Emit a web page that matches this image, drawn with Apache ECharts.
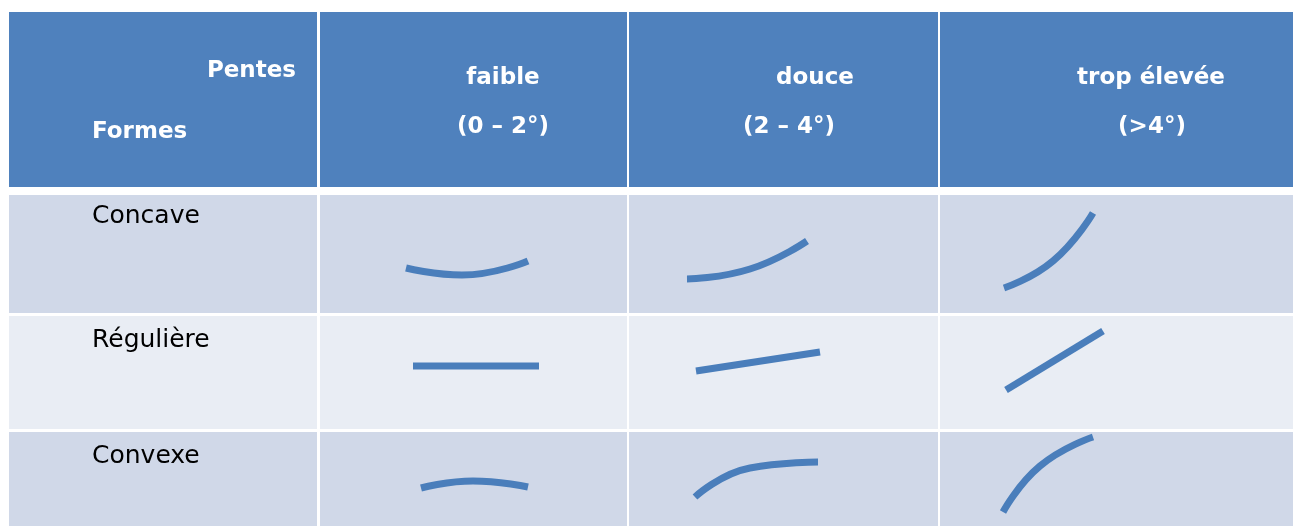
<!DOCTYPE html>
<html>
<head>
<meta charset="utf-8">
<script src="https://cdn.jsdelivr.net/npm/echarts@6/dist/echarts.min.js"></script>
<style>
  html, body { margin: 0; padding: 0; background: #fff; }
  #pentesFormes { width: 1293px; height: 526px; }
</style>
</head>
<body>
<div id="pentesFormes"></div>
<script>
// en-têtes et lignes du tableau
const pentes = ['faible', 'douce', 'trop élevée'];
const plages = ['(0 – 2°)', '(2 – 4°)', '(>4°)'];
const formes = ['Concave', 'Régulière', 'Convexe'];

// profils : début, milieu, fin (x, y dans le repère du tableau, y vers le bas)
const concave = [
  [[406, 268], [462, 275], [528, 261]],
  [[687, 279], [750, 269], [807, 241]],
  [[1004, 288], [1053, 261], [1093, 213]]
];
const reguliere = [
  [[413, 366], [539, 366]],
  [[696, 371], [820, 352]],
  [[1006, 390], [1103, 331]]
];
const convexe = [
  [[421, 488], [473, 481], [528, 487]],
  [[695, 497], [750, 468], [818, 462]],
  [[1003, 512], [1040, 466], [1093, 437]]
];

// mise en page (bords des colonnes et des lignes)
const colX = [[9, 317], [320, 627], [629, 938], [940, 1293]];
const headY = [12, 187];
const rowY = [[195, 313], [316, 429], [432, 526]];

const chart = echarts.init(document.getElementById('pentesFormes'));

const cells = [];
colX.forEach(function (c, i) {
  cells.push([c[0], headY[0], c[1], headY[1], 0]);
  rowY.forEach(function (r, j) {
    cells.push([c[0], r[0], c[1], r[1], j === 1 ? 2 : 1]);
  });
});
const fills = ['#4f81bd', '#d0d8e8', '#e9edf4'];

const labels = [
  [296, 71, 'Pentes', 'right', true],
  [92, 132, 'Formes', 'left', true]
];
const headCenters = [503, 815, 1151];
const plageCenters = [503, 789, 1152];
pentes.forEach(function (p, i) {
  labels.push([headCenters[i], 78, p, 'center', true]);
  labels.push([plageCenters[i], 127, plages[i], 'center', true]);
});
const rowTextY = [216, 340, 456];
formes.forEach(function (f, j) {
  labels.push([92, rowTextY[j], f, 'left', false]);
});

const curveSeries = [];
[concave, reguliere, convexe].forEach(function (rowCurves, j) {
  rowCurves.forEach(function (pts, i) {
    curveSeries.push({
      name: formes[j] + ' ' + pentes[i],
      type: 'line',
      data: pts,
      smooth: pts.length > 2 ? 0.5 : false,
      symbol: 'none',
      z: 5,
      silent: true,
      lineStyle: { color: '#4a7ebb', width: 7, cap: 'butt' }
    });
  });
});

const option = {
  backgroundColor: '#fff',
  animation: false,
  grid: { left: 0, right: 0, top: 0, bottom: 0 },
  xAxis: { type: 'value', min: 0, max: 1293, show: false },
  yAxis: { type: 'value', min: 0, max: 526, inverse: true, show: false },
  series: [{
    type: 'custom',
    silent: true,
    z: 1,
    data: cells,
    renderItem: function (params, api) {
      const p0 = api.coord([api.value(0), api.value(1)]);
      const p1 = api.coord([api.value(2), api.value(3)]);
      return {
        type: 'rect',
        shape: { x: p0[0], y: p0[1], width: p1[0] - p0[0], height: p1[1] - p0[1] },
        style: { fill: fills[api.value(4)] }
      };
    }
  }, {
    type: 'custom',
    silent: true,
    z: 3,
    data: labels,
    renderItem: function (params, api) {
      const d = labels[params.dataIndex];
      const p = api.coord([d[0], d[1]]);
      return {
        type: 'text',
        x: p[0],
        y: p[1],
        style: {
          text: d[2],
          textAlign: d[3],
          textVerticalAlign: 'middle',
          fill: d[4] ? '#ffffff' : '#000000',
          font: (d[4] ? 'bold 23px' : '25px') + ' "DejaVu Sans", sans-serif'
        }
      };
    }
  }].concat(curveSeries)
};
chart.setOption(option);
</script>
</body>
</html>
